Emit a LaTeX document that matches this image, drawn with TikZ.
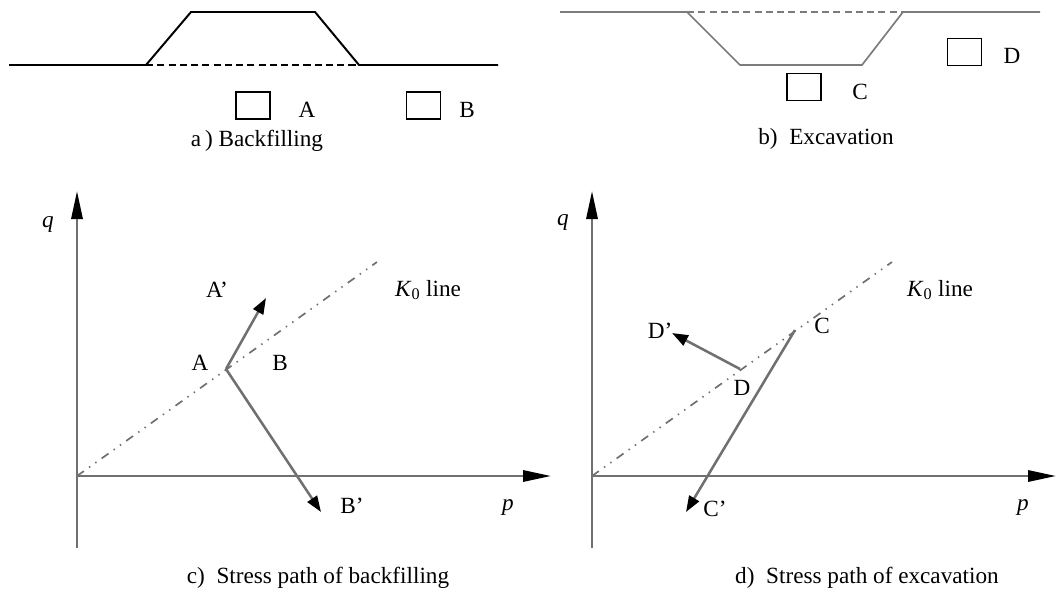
\documentclass[tikz,border=0pt]{standalone}
\usepackage{fontspec}
\setmainfont{Liberation Serif}
\usetikzlibrary{arrows.meta, positioning}
\definecolor{axgray}{HTML}{707070}
\definecolor{pitgray}{HTML}{7C7C7C}

\begin{document}
\begin{tikzpicture}[
  x=0.025cm, y=-0.025cm,
  font=\fontsize{16.5}{19}\selectfont,
  ground/.style={line width=1.4pt, black},
  pit/.style={line width=1.2pt, pitgray},
  soilbox/.style={rectangle, draw, line width=1.2pt, minimum width=0.85cm, minimum height=0.67cm, inner sep=0pt},
  axis/.style={line width=1.8pt, axgray, -{Triangle[length=0.7cm, width=0.28cm, black]}},
  stresspath/.style={line width=1.8pt, axgray, -{Triangle[length=0.4cm, width=0.28cm, black]}},
  kzero/.style={line width=1.2pt, axgray, dash pattern=on 6pt off 4.5pt on 1pt off 4.5pt on 1pt off 4.5pt},
  lbl/.style={inner sep=0pt},
]
\useasboundingbox (0,0) rectangle (1056,592);

% a) backfilling
\coordinate (aw) at (9,65);
\coordinate (atl) at (146,65);
\coordinate (att) at (191,12);
\coordinate (atr) at (315,12);
\coordinate (abr) at (359,65);
\coordinate (ae) at (498,65);
\draw[ground] (aw) -- (atl) -- (att) -- (atr) -- (abr) -- (ae);
\draw[ground, dash pattern=on 5pt off 3pt] (atl) -- (abr);
\node[soilbox] (boxA) at (253,105.5) {};
\node[soilbox] (boxB) at (423.5,105.5) {};
\node[lbl] (labA) at (307,110) {A};
\node[lbl] (labB) at (467,110) {B};
\node[lbl] (capa) at (257,141) {a\,) Backfilling};

% b) excavation
\coordinate (bw) at (560,12);
\coordinate (btl) at (687,12);
\coordinate (bbl) at (740,65);
\coordinate (bbr) at (862,65);
\coordinate (btr) at (903,12);
\coordinate (be) at (1040,12);
\draw[pit] (bw) -- (btl) -- (bbl) -- (bbr) -- (btr) -- (be);
\draw[pit, dash pattern=on 5pt off 3pt] (btl) -- (btr);
\node[soilbox] (boxC) at (804,87) {};
\node[soilbox] (boxD) at (964.5,52) {};
\node[lbl] (labC) at (860,92) {C};
\node[lbl] (labD) at (1012,56) {D};
\node[lbl] (capb) at (826,139) {b)\enspace Excavation};

% c) stress path of backfilling
\coordinate (oc) at (77,476);
\coordinate (cbot) at (77,548);
\coordinate (ctop) at (77,191);
\coordinate (cright) at (551,476);
\coordinate (ck) at (377,262);
\coordinate (ptA) at (226,369);
\coordinate (ptAp) at (266,298);
\coordinate (ptBp) at (321,512);
\draw[axis] (cbot) -- (ctop);
\draw[axis] (oc) -- (cright);
\draw[kzero] (oc) -- (ck);
\draw[stresspath] (ptA) -- (ptAp);
\draw[stresspath] (ptA) -- (ptBp);
\node[lbl] (qc) at (48,224) {\textit{q}};
\node[lbl] (pc) at (508,507) {\textit{p}};
\node[lbl] (kc) at (428,290) {\textit{K}\textsubscript{0} line};
\node[lbl] (labAp) at (217,290) {A'};
\node[lbl] (labAc) at (200,363) {A};
\node[lbl] (labBc) at (280,363) {B};
\node[lbl] (labBp) at (352,506) {B'};
\node[lbl] (capc) at (318,578) {c)\enspace Stress path of backfilling};

% d) stress path of excavation
\coordinate (od) at (592,476);
\coordinate (dbot) at (592,548);
\coordinate (dtop) at (592,191);
\coordinate (dright) at (1056,476);
\coordinate (dk) at (892,262);
\coordinate (ptD) at (740,369);
\coordinate (ptDp) at (672,333);
\coordinate (ptC) at (795,330);
\coordinate (ptCp) at (686,512);
\draw[axis] (dbot) -- (dtop);
\draw[axis] (od) -- (dright);
\draw[kzero] (od) -- (dk);
\draw[stresspath] (ptD) -- (ptDp);
\draw[stresspath] (ptC) -- (ptCp);
\node[lbl] (qd) at (563,222) {\textit{q}};
\node[lbl] (pd) at (1023,507) {\textit{p}};
\node[lbl] (kd) at (940,290) {\textit{K}\textsubscript{0} line};
\node[lbl] (labDp) at (660,331) {D'};
\node[lbl] (labCd) at (822,326) {C};
\node[lbl] (labDd) at (742,388) {D};
\node[lbl] (labCp) at (715,509) {C'};
\node[lbl] (capd) at (867,578) {d)\enspace Stress path of excavation};
\end{tikzpicture}
\end{document}
